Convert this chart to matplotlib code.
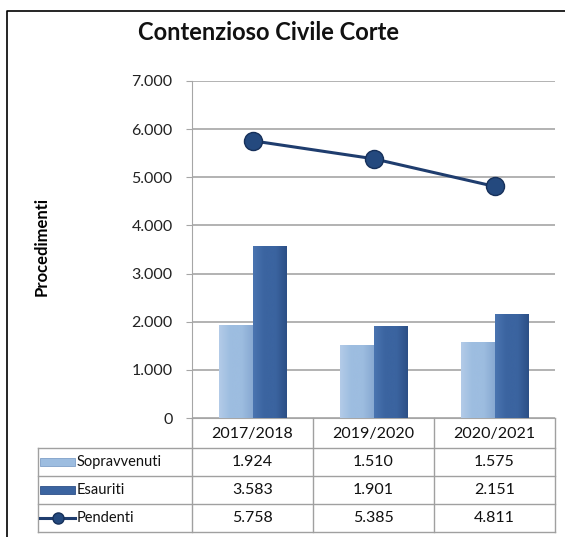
import matplotlib
matplotlib.use("Agg")
import matplotlib.pyplot as plt
import numpy as np
from matplotlib.patches import Rectangle
from matplotlib.lines import Line2D

plt.rcParams['font.family'] = ['Lato', 'DejaVu Sans']

# dati
anni = ['2017/2018', '2019/2020', '2020/2021']
sopravvenuti = [1924, 1510, 1575]
esauriti = [3583, 1901, 2151]
pendenti = [5758, 5385, 4811]
serie = ['Sopravvenuti', 'Esauriti', 'Pendenti']
yticks = [0, 1000, 2000, 3000, 4000, 5000, 6000, 7000]

col_chiaro = '#9dbde0'
col_scuro = '#3b64a0'
col_linea = '#1f3d6e'
col_griglia = '#a6a6a6'


def fmt(v):
    # separatore migliaia all'italiana
    return f"{v:,}".replace(',', '.')


def barra_sfumata(ax, bar, c_left, c_mid, c_right):
    x0, y0 = bar.get_x(), bar.get_y()
    w, h = bar.get_width(), bar.get_height()
    cmap = matplotlib.colors.LinearSegmentedColormap.from_list('g', [c_left, c_mid, c_mid, c_right])
    grad = np.linspace(0, 1, 64).reshape(1, -1)
    im = ax.imshow(grad, extent=(x0, x0 + w, y0, y0 + h), aspect='auto', cmap=cmap,
                   origin='lower', zorder=bar.get_zorder(), interpolation='bicubic')
    im.set_clip_path(bar)
    bar.set_facecolor('none')


W, H = 565, 537
fig = plt.figure(figsize=(W / 100, H / 100), dpi=100)

# area del grafico (in pixel)
L, R, T, B = 192, 555, 81, 418
ax = fig.add_axes([L / W, 1 - B / H, (R - L) / W, (B - T) / H])

x = np.arange(len(anni))
bw = 0.28
b1 = ax.bar(x - bw / 2, sopravvenuti, bw, color=col_chiaro, edgecolor='#8aaad0', linewidth=0.6, zorder=3)
b2 = ax.bar(x + bw / 2, esauriti, bw, color=col_scuro, edgecolor='#2e5088', linewidth=0.6, zorder=3)
for b in b1:
    barra_sfumata(ax, b, '#b3cbe8', '#9dbde0', '#88a9d2')
for b in b2:
    barra_sfumata(ax, b, '#4a74b0', '#3b64a0', '#2c4f86')
ax.plot(x, pendenti, color=col_linea, linewidth=2.2, marker='o', markersize=13,
        markerfacecolor='#24497e', markeredgecolor='#16305a', markeredgewidth=1, zorder=5)

ax.set_xlim(-0.5, 2.5)
ax.set_ylim(0, 7000)
ax.set_yticks(yticks)
ax.set_yticklabels([fmt(v) for v in yticks], fontsize=11.5, color='#222222')
ax.set_xticks([])
ax.grid(axis='y', color=col_griglia, linewidth=1.2, zorder=0)
for s in ['top', 'right']:
    ax.spines[s].set_visible(False)
ax.spines['left'].set_color(col_griglia)
ax.spines['bottom'].set_color(col_griglia)
ax.tick_params(axis='y', length=4, color=col_griglia, pad=10)
ax.set_ylabel('Procedimenti', fontsize=12, fontweight='bold', labelpad=0)
ax.yaxis.set_label_coords((50 - L) / (R - L), 0.51)

fig.text(268 / W, 1 - 32 / H, 'Contenzioso Civile Corte', fontsize=17, fontweight='bold',
         ha='center', va='center', color='#111111')

# tabella dati (overlay in coordinate pixel)
ov = fig.add_axes([0, 0, 1, 1], zorder=10)
ov.set_xlim(0, W)
ov.set_ylim(H, 0)
ov.axis('off')
ov.patch.set_visible(False)

# cornice esterna
ov.plot([6.5, 6.5, W], [H, 10.5, 10.5], color='black', linewidth=1.2)

col_x = [L + i * (R - L) / 3 for i in range(4)]
righe = [418, 448, 476, 504, 532]
lab_x0 = 38
lc = '#a0a0a0'
for cx in col_x:
    ov.plot([cx, cx], [righe[0], righe[-1]], color=lc, linewidth=1)
ov.plot([lab_x0, lab_x0], [righe[1], righe[-1]], color=lc, linewidth=1)
for ry in righe[1:]:
    ov.plot([lab_x0, R], [ry, ry], color=lc, linewidth=1)

for i, a in enumerate(anni):
    ov.text((col_x[i] + col_x[i + 1]) / 2, (righe[0] + righe[1]) / 2 + 1, a,
            ha='center', va='center', fontsize=11.5, color='#111111')

valori = [sopravvenuti, esauriti, pendenti]
for r, (nome, vals) in enumerate(zip(serie, valori)):
    yc = (righe[r + 1] + righe[r + 2]) / 2
    for i, v in enumerate(vals):
        ov.text((col_x[i] + col_x[i + 1]) / 2, yc, fmt(v), ha='center', va='center',
                fontsize=11.5, color='#111111')
    ov.text(77, yc, nome, ha='left', va='center', fontsize=10.5, color='#111111')

# chiavi legenda
y1 = (righe[1] + righe[2]) / 2
ov.add_patch(Rectangle((40, y1 - 4), 35, 8, facecolor=col_chiaro, edgecolor='#7f9fc8', linewidth=0.6))
y2 = (righe[2] + righe[3]) / 2
ov.add_patch(Rectangle((40, y2 - 4), 35, 8, facecolor=col_scuro, edgecolor='#2e5088', linewidth=0.6))
y3 = (righe[3] + righe[4]) / 2
ov.add_line(Line2D([40, 75], [y3, y3], color=col_linea, linewidth=2.2))
ov.plot([57.5], [y3], marker='o', markersize=8, markerfacecolor='#24497e', markeredgecolor='#16305a')

fig.savefig('out.png', dpi=100, facecolor='white')
